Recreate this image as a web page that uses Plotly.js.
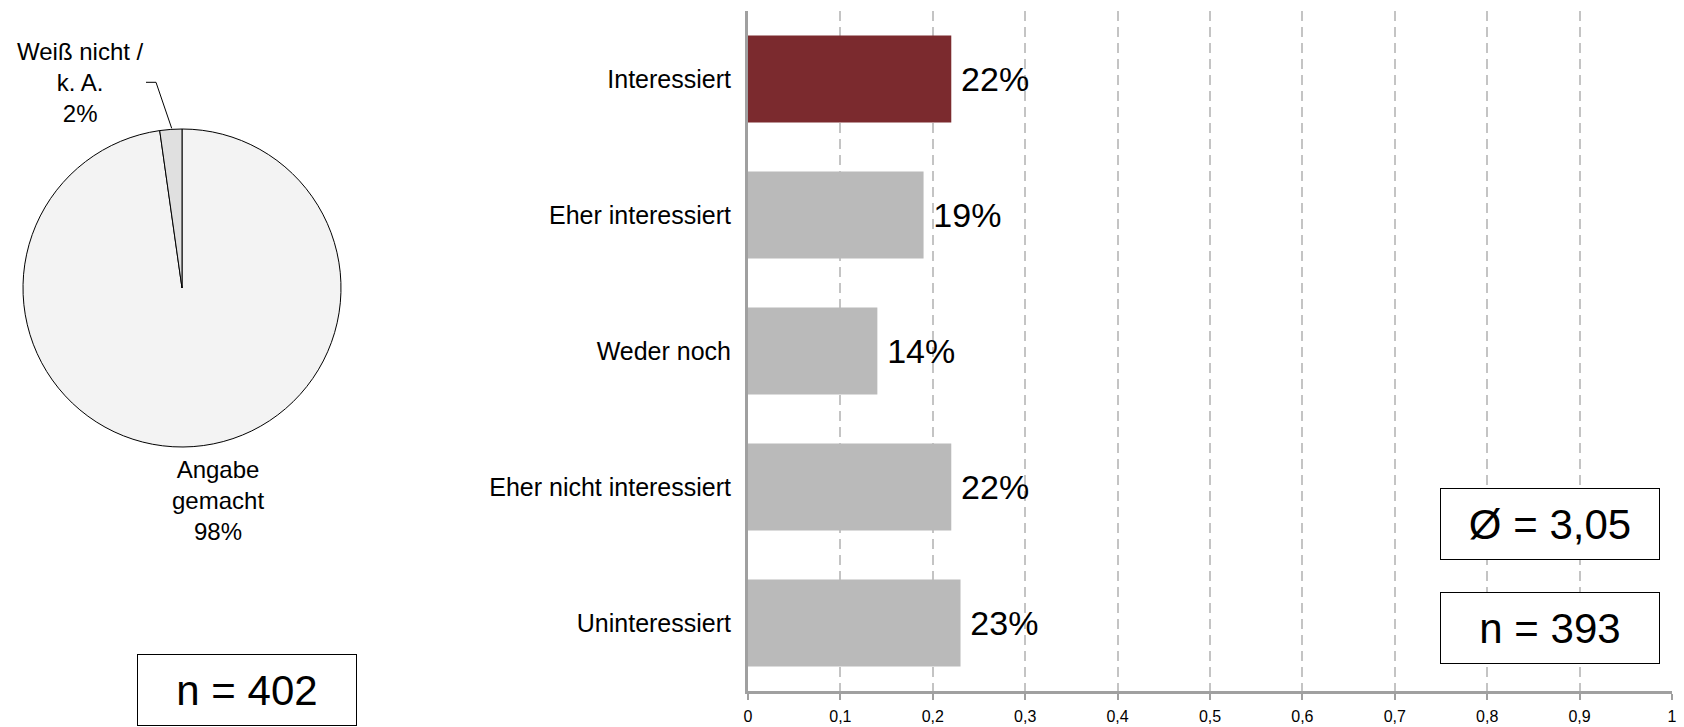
<!DOCTYPE html>
<html>
<head>
<meta charset="utf-8">
<script src="https://cdn.plot.ly/plotly-3.0.1.min.js"></script>
<style>
  html, body { margin: 0; padding: 0; background: #fff; }
  #chart { width: 1684px; height: 727px; }
</style>
</head>
<body>
<div id="chart"></div>
<script>
// ---- Data ----
const pieLabels = ["Angabe<br>gemacht", "Weiß nicht /<br>k. A."];
const pieCounts = [393, 9];
const pieColors = ["#f3f3f3", "#e0e0e0"];

const barCategories = ["Interessiert", "Eher interessiert", "Weder noch", "Eher nicht interessiert", "Uninteressiert"];
const barValues = [0.22, 0.19, 0.14, 0.22, 0.23];
const barColors = ["#7b2a2e", "#bababa", "#bababa", "#bababa", "#bababa"];

const meanValue = 3.05;
const xTickVals = [0, 0.1, 0.2, 0.3, 0.4, 0.5, 0.6, 0.7, 0.8, 0.9, 1];

// ---- Derived ----
const W = 1684, H = 727;
const px = x => x / W;
const py = y => 1 - y / H;
const total = pieCounts.reduce((a, b) => a + b, 0);
const answered = pieCounts[0];
const pct = pieCounts.map(v => Math.round(v / total * 100) + "%");
const FONT = "Liberation Sans, Arial, sans-serif";

const pie = {
  type: "pie",
  labels: pieLabels,
  values: pieCounts,
  sort: false,
  direction: "clockwise",
  rotation: 0,
  textinfo: "none",
  marker: { colors: pieColors, line: { color: "#000", width: 1 } },
  domain: { x: [px(23), px(341)], y: [py(447), py(129)] },
  showlegend: false,
  hoverinfo: "skip"
};

const bars = {
  type: "bar",
  orientation: "h",
  x: barValues,
  y: barCategories,
  width: 0.64,
  marker: { color: barColors, line: { width: 0 } },
  texttemplate: "\u2009%{x:.0%}",
  textposition: "outside",
  cliponaxis: false,
  textfont: { family: FONT, size: 34, color: "#000" },
  xaxis: "x", yaxis: "y",
  showlegend: false,
  hoverinfo: "skip"
};

const boxStyle = {
  xref: "paper", yref: "paper", showarrow: false,
  xanchor: "center", yanchor: "middle",
  bordercolor: "#000", borderwidth: 1, borderpad: 0,
  bgcolor: "#fff",
  font: { family: FONT, size: 42, color: "#000" },
  width: 218, height: 70
};

const layout = {
  width: W, height: H,
  margin: { l: 0, r: 0, t: 0, b: 0, pad: 0 },
  paper_bgcolor: "#fff", plot_bgcolor: "rgba(0,0,0,0)",
  separators: ", ",
  font: { family: FONT, color: "#000" },
  xaxis: {
    domain: [px(748), px(1672)],
    range: [0, 1],
    tickvals: xTickVals,
    showgrid: true, gridcolor: "#c4c4c4", gridwidth: 2, griddash: "10px,6px",
    zeroline: false,
    showline: true, linecolor: "#a0a0a0", linewidth: 3,
    ticks: "outside", ticklen: 6, tickwidth: 2, tickcolor: "#a0a0a0",
    ticklabelstandoff: 3,
    ticklabeloverflow: "allow",
    tickfont: { family: FONT, size: 16, color: "#000" },
    automargin: false, fixedrange: true
  },
  yaxis: {
    domain: [py(691), py(11)],
    autorange: "reversed",
    type: "category",
    showgrid: false, zeroline: false,
    showline: true, linecolor: "#a0a0a0", linewidth: 3,
    ticks: "", ticklabelstandoff: 9,
    tickfont: { family: FONT, size: 25, color: "#000" },
    automargin: false, fixedrange: true
  },
  shapes: [
    { type: "path", xref: "paper", yref: "paper",
      path: `M ${px(171.7)},${py(128.3)} L ${px(156)},${py(82.3)} L ${px(146)},${py(82.3)}`,
      line: { color: "#000", width: 1 } }
  ],
  annotations: [
    { xref: "paper", yref: "paper", x: px(80), y: py(82), showarrow: false,
      xanchor: "center", yanchor: "middle", align: "center",
      text: pieLabels[1] + "<br>" + pct[1],
      font: { family: FONT, size: 24, color: "#000" } },
    { xref: "paper", yref: "paper", x: px(218), y: py(500), showarrow: false,
      xanchor: "center", yanchor: "middle", align: "center",
      text: pieLabels[0] + "<br>" + pct[0],
      font: { family: FONT, size: 24, color: "#000" } },
    Object.assign({}, boxStyle, { x: px(247), y: py(690), text: "n = " + total }),
    Object.assign({}, boxStyle, { x: px(1550), y: py(524), text: "Ø = " + meanValue.toFixed(2).replace(".", ",") }),
    Object.assign({}, boxStyle, { x: px(1550), y: py(627.5), text: "n = " + answered })
  ]
};

Plotly.newPlot("chart", [pie, bars], layout, { staticPlot: true, displayModeBar: false });
</script>
</body>
</html>
